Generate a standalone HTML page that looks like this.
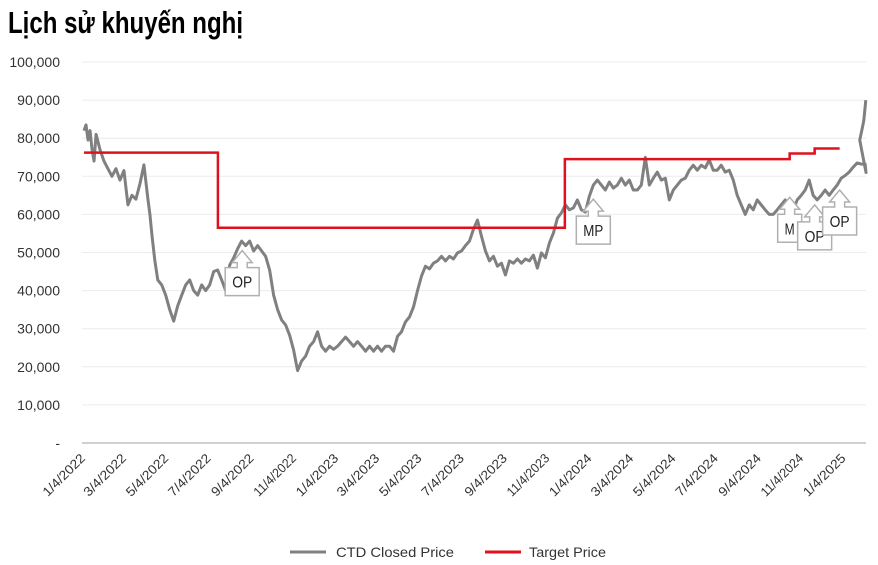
<!DOCTYPE html>
<html><head><meta charset="utf-8"><style>
body{margin:0;background:#fff;}
svg{display:block;font-family:"Liberation Sans",sans-serif;}
</style></head><body>
<svg id="c" width="878" height="565" viewBox="0 0 878 565">
<text x="8" y="33" font-weight="bold" font-size="31" textLength="235" lengthAdjust="spacingAndGlyphs" fill="#000">Lịch sử khuyến nghị</text>
<g id="grid"></g><g id="ylab"></g><g id="xlab"></g>
<g id="series"></g><g id="notes"></g>
<g>
<line x1="290" y1="552" x2="326" y2="552" stroke="#808080" stroke-width="3"/>
<text x="336" y="557" font-size="14" textLength="118" lengthAdjust="spacingAndGlyphs" fill="#333">CTD Closed Price</text>
<line x1="485" y1="552" x2="521" y2="552" stroke="#e0101e" stroke-width="3"/>
<text x="529" y="557" font-size="14" textLength="77" lengthAdjust="spacingAndGlyphs" fill="#333">Target Price</text>
</g>
</svg>
<script>
const yTicks=[0,10000,20000,30000,40000,50000,60000,70000,80000,90000,100000];
const xTickLabels=["1/4/2022","3/4/2022","5/4/2022","7/4/2022","9/4/2022","11/4/2022","1/4/2023","3/4/2023","5/4/2023","7/4/2023","9/4/2023","11/4/2023","1/4/2024","3/4/2024","5/4/2024","7/4/2024","9/4/2024","11/4/2024","1/4/2025"];
// closed price (thousand VND)
const price=[82,83.5,79.5,82,77,74,81,79,77,74,72,70,72,69,71.5,62.5,65,64,68,73,64,60,54.6,48,42.8,41.5,38.8,35,32,36,38.8,41.5,42.8,40,38.8,41.5,40,41.5,45,45.4,42.8,40,46.7,48.6,51,53,51.8,53,50.4,51.8,50.4,49,45.4,38.8,35,32.3,31,28.3,24.4,19,21.5,22.8,25.4,26.6,29.2,25.4,24.1,25.4,24.6,25.4,26.6,27.8,26.6,25.4,26.6,25.4,24.1,25.4,24.1,25.4,24.1,25.4,25.4,24.1,28,29.2,31.8,33.1,35.7,40,43.8,46.4,45.7,47.2,47.8,49,47.8,49,48.3,49.9,50.4,51.8,53,56.1,58.5,54.3,50.4,47.8,49,46.4,47.2,44.1,47.8,47.2,48.3,47.2,48.3,47.8,49.3,45.9,49.9,48.6,52.5,55.1,59,60.4,62.5,61.2,61.7,63.8,61.2,60.6,64.8,67.7,69,67.7,66.4,68.5,66.9,67.7,69.5,67.7,69,66.4,66.4,67.7,75,67.7,69.5,71.1,69,69.5,63.8,66.4,67.7,69,69.5,71.6,72.9,71.6,72.9,72.2,74.3,71.6,71.6,72.9,71.1,71.6,69,65,62.5,60,62.5,61.2,63.8,62.5,61.2,60,60,61.2,62.5,63.8,62.5,61.2,63.8,65,66.4,69,65,63.8,65,66.4,65,66.4,67.7,69.5,70.2,71.1,72.4,73.5,73.2,73.2,71,79.5,82,84.6,90];
// sampling segments in days since 1/4/2022: [startDay, stepDays, count]
const sampleSegments=[[0,2.9,8],[23,5.76,13],[95,2.9,2],[102,4.3,2],[112,5.76,-1],[1118,2.9,4]];
// target price
const targetStartDays=[0,193,693,1017,1053];
const targetValues=[76200,56500,74500,76000,77300];
const targetEndDay=1089;
// recommendation callouts: [day, tip price, label]
const notes=[[228,50500,"OP"],[734,64000,"MP"],[1017,64500,"M"],[1053,62500,"OP"],[1089,66400,"OP"]];

const X0=84,X1=866,Y0=443,Y1=62,DAYS=1127;
const ys=v=>Y0-(v/100000)*(Y0-Y1);
const xd=d=>X0+d/DAYS*(X1-X0);
// build day list for price samples
const days=[];
const fixed=sampleSegments.reduce((s,g)=>s+(g[2]>0?g[2]:0),0);
sampleSegments.forEach(([s,st,c])=>{const n=c>0?c:price.length-fixed;for(let k=0;k<n;k++)days.push(s+k*st);});
const NS="http://www.w3.org/2000/svg";
function mk(tag,attrs,parent){const e=document.createElementNS(NS,tag);for(const k in attrs)e.setAttribute(k,attrs[k]);parent.appendChild(e);return e;}
const grid=document.getElementById('grid'),ylab=document.getElementById('ylab'),xlab=document.getElementById('xlab'),ser=document.getElementById('series'),notesG=document.getElementById('notes');
yTicks.forEach(v=>{
  const l=mk('line',{x1:X0-2,x2:X1,y1:ys(v),y2:ys(v),stroke:v===0?'#d0d0d0':'#ececec','stroke-width':v===0?2:1},grid);
  
  
  const t=mk('text',{x:60,y:ys(v)+5,'text-anchor':'end','font-size':14,fill:'#333'},ylab);
  t.textContent=v===0?'-':v.toLocaleString('en-US');
  
  
});
xTickLabels.forEach((s,i)=>{
  const [m,d,y]=s.split('/').map(Number);
  const dd=(Date.UTC(y,m-1,d)-Date.UTC(2022,0,4))/864e5;
  const x=xd(dd);
  const t=mk('text',{x:x+2,y:Y0+16,'text-anchor':'end','font-size':13,fill:'#333',textLength:54,lengthAdjust:'spacingAndGlyphs',transform:`rotate(-45 ${x+2} ${Y0+16})`},xlab);
  t.textContent=s;
  
  
});
const pl=mk('polyline',{points:price.map((v,i)=>xd(Math.min(days[i],DAYS))+','+ys(v*1000)).join(' '),fill:'none',stroke:'#808080','stroke-width':3,'stroke-linejoin':'round'},ser);


let pts=[];
targetStartDays.forEach((f,i)=>{const e=i<targetStartDays.length-1?targetStartDays[i+1]:targetEndDay;pts.push(xd(f)+','+ys(targetValues[i]),xd(e)+','+ys(targetValues[i]));});
const tl=mk('polyline',{points:pts.join(' '),fill:'none',stroke:'#e0101e','stroke-width':2.5},ser);


notes.forEach(([f,v,lab])=>{
  const cx=xd(f),ty=ys(v);
  const w=lab.length>1?34:24,h=28;
  const g=mk('g',{},notesG);
  
  
  const d=`M${cx},${ty} L${cx+10},${ty+12} L${cx+5},${ty+12} L${cx+5},${ty+17} L${cx+w/2},${ty+17} L${cx+w/2},${ty+17+h} L${cx-w/2},${ty+17+h} L${cx-w/2},${ty+17} L${cx-5},${ty+17} L${cx-5},${ty+12} L${cx-10},${ty+12} Z`;
  mk('path',{d,fill:'#fff',stroke:'#b0b0b0','stroke-width':1.5},g);
  const t=mk('text',{x:cx,y:ty+37,'text-anchor':'middle','font-size':16,fill:'#222',textLength:lab.length*10,lengthAdjust:'spacingAndGlyphs'},g);
  t.textContent=lab;
});
</script>
</body></html>
